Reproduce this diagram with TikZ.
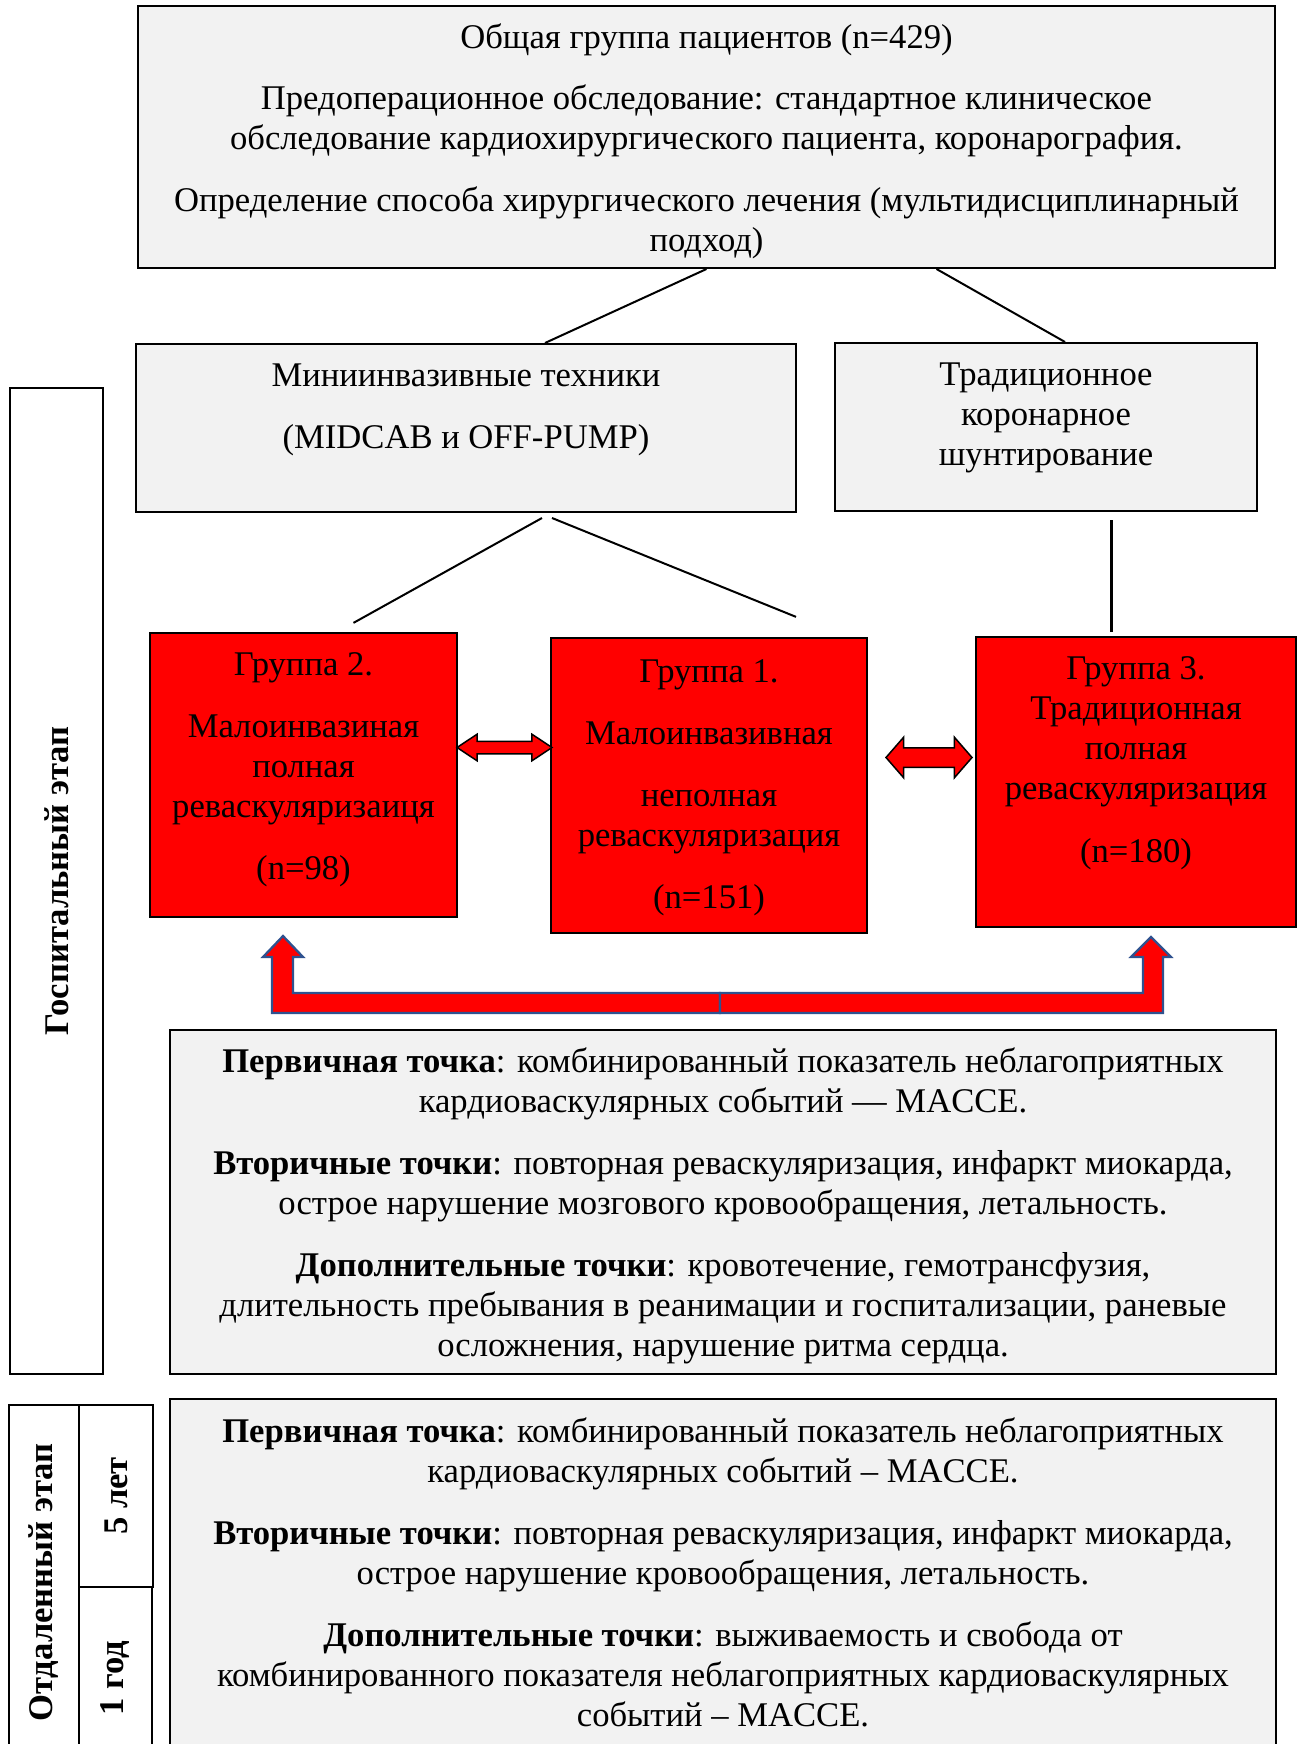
\documentclass[tikz,border=0pt]{standalone}
\usepackage{fontspec}
\setmainfont{Liberation Serif}
\usetikzlibrary{positioning,calc,shapes.arrows}
\definecolor{boxgrey}{HTML}{F2F2F2}
\definecolor{groupred}{HTML}{FF0000}
\definecolor{arrowedge}{HTML}{2F528F}

\begin{document}
\begin{tikzpicture}[
  x=0.4pt, y=-0.4pt,
  font=\fontsize{13.85}{16}\selectfont,
  greybox/.style = {draw, line width=0.8pt, fill=boxgrey, inner sep=0pt},
  redbox/.style = {draw, line width=0.9pt, fill=groupred, inner sep=0pt},
  stagebox/.style = {draw, line width=0.8pt, fill=white, inner sep=0pt, rotate=90,
    font=\fontsize{13.85}{16}\selectfont\bfseries},
  boxtext/.style = {align=center, inner sep=0pt},
  link/.style = {line width=0.8pt},
  dblarrow/.style = {double arrow, draw, line width=0.6pt, fill=groupred, inner xsep=0pt},
  bigarrow/.style = {draw=arrowedge, line width=0.9pt, fill=groupred, line join=miter}
    ]
  \useasboundingbox (0,0) rectangle (1301,1744);

  \node[greybox, minimum width=454.8pt, minimum height=104.8pt] (top) at (706.5,137) {};
  \node[boxtext, below=6pt of top.north] (top-t) {\strut Общая группа пациентов (n=429)\\[8.6pt]
    Предоперационное обследование: стандартное клиническое\\
    обследование кардиохирургического пациента, коронарография.\\[8.6pt]
    Определение способа хирургического лечения (мультидисциплинарный\\
    подход)};

  \node[greybox, minimum width=264pt, minimum height=67.2pt] (mini) at (466,428) {};
  \node[boxtext, below=6pt of mini.north] (mini-t) {\strut Миниинвазивные техники\\[8.8pt]
    (MIDCAB и OFF-PUMP)};

  \node[greybox, minimum width=168.8pt, minimum height=67.2pt] (trad) at (1046,427) {};
  \node[boxtext, below=6pt of trad.north] (trad-t) {\strut Традиционное\\коронарное\\шунтирование};

  \node[redbox, minimum width=122.8pt, minimum height=113.6pt] (g2) at (303.5,775) {};
  \node[boxtext, below=6pt of g2.north] (g2-t) {\strut Группа 2.\\[8.8pt]
    Малоинвазиная\\полная\\реваскуляризаиця\\[8.8pt](n=98)};

  \node[redbox, minimum width=126.4pt, minimum height=118pt] (g1) at (709,785.5) {};
  \node[boxtext, below=7pt of g1.north] (g1-t) {\strut Группа 1.\\[8.8pt]
    Малоинвазивная\\[8.8pt]неполная\\реваскуляризация\\[8.8pt](n=151)};

  \node[redbox, minimum width=128pt, minimum height=116pt] (g3) at (1136,782) {};
  \node[boxtext, below=6pt of g3.north] (g3-t) {\strut Группа 3.\\Традиционная\\полная\\
    реваскуляризация\\[9.4pt](n=180)};

  \draw[link] (top.south) -- ($(mini.north)+(79,0)$);
  \draw[link] ($(top.south)+(230,0)$) -- ($(trad.north)+(19,0)$);
  \draw[link] ($(mini.south)+(76,5)$) -- ($(g2.north)+(50,-9)$);
  \draw[link] ($(mini.south)+(86,5)$) -- ($(g1.north)+(87,-20)$);
  \draw[link, line width=1.2pt] ($(trad.south)+(65,8)$) -- ($(g3.north)+(-25,-4)$);

  \node[dblarrow, inner ysep=2.2pt, double arrow head extend=2.8pt,
    double arrow tip angle=67, minimum height=38pt] (a21) at (504.5,747.5) {};
  \node[dblarrow, inner ysep=3.6pt, double arrow head extend=4.2pt,
    double arrow tip angle=98, minimum height=34.4pt] (a13) at (929,757.5) {};

  \draw[bigarrow] (720,993) -- (293,993) -- (293,957) -- (303,957) -- (283,936)
    -- (263,957) -- (272,957) -- (272,1013) -- (720,1013) -- cycle;
  \draw[bigarrow] (720,993) -- (1143,993) -- (1143,957) -- (1131,957) -- (1151,937)
    -- (1171,957) -- (1163,957) -- (1163,1013) -- (720,1013) -- cycle;

  \node[greybox, minimum width=442.4pt, minimum height=137.6pt] (endp) at (723,1202) {};
  \node[boxtext, below=6pt of endp.north] (endp-t) {\strut
    \textbf{Первичная точка}: комбинированный показатель неблагоприятных\\
    кардиоваскулярных событий — MACCE.\\[8.8pt]
    \textbf{Вторичные точки}: повторная реваскуляризация, инфаркт миокарда,\\
    острое нарушение мозгового кровообращения, летальность.\\[8.8pt]
    \textbf{Дополнительные точки}: кровотечение, гемотрансфузия,\\
    длительность пребывания в реанимации и госпитализации, раневые\\
    осложнения, нарушение ритма сердца.};

  \node[greybox, minimum width=442.4pt, minimum height=140.4pt] (late) at (723,1574.5) {};
  \node[boxtext, below=6.4pt of late.north] (late-t) {\strut
    \textbf{Первичная точка}: комбинированный показатель неблагоприятных\\
    кардиоваскулярных событий – MACCE.\\[8.8pt]
    \textbf{Вторичные точки}: повторная реваскуляризация, инфаркт миокарда,\\
    острое нарушение кровообращения, летальность.\\[8.8pt]
    \textbf{Дополнительные точки}: выживаемость и свобода от\\
    комбинированного показателя неблагоприятных кардиоваскулярных\\
    событий – MACCE.};

  \node[stagebox, minimum width=394.4pt, minimum height=37.2pt] (hosp) at (56.5,881) {Госпитальный этап};
  \node[stagebox, minimum width=142pt, minimum height=28pt] (remote) at (44,1582.5) {Отдаленный этап};
  \node[stagebox, minimum width=72.8pt, minimum height=29.6pt] (five) at (116,1496) {5 лет};
  \node[stagebox, minimum width=73.2pt, minimum height=29.2pt] (one) at (115.5,1678.5) {1 год};
\end{tikzpicture}
\end{document}
